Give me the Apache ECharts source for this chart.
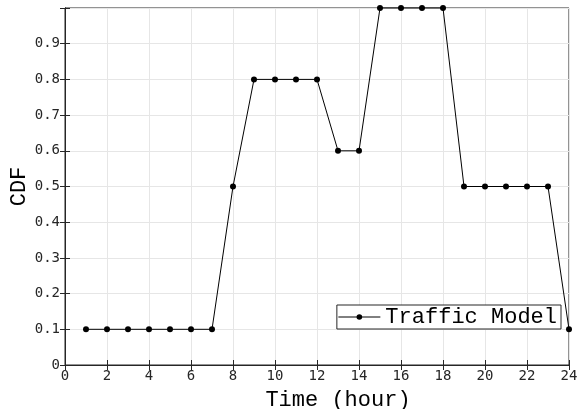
<!DOCTYPE html>
<html><head><meta charset="utf-8">
<script src="https://cdn.jsdelivr.net/npm/echarts@6/dist/echarts.min.js"></script>
<style>html,body{margin:0;padding:0;background:#fff}#c{width:578px;height:409px}</style>
</head><body><div id="c"></div>
<script>
const hours = [1,2,3,4,5,6,7,8,9,10,11,12,13,14,15,16,17,18,19,20,21,22,23,24];
const cdf = [0.1,0.1,0.1,0.1,0.1,0.1,0.1,0.5,0.8,0.8,0.8,0.8,0.6,0.6,1.0,1.0,1.0,1.0,0.5,0.5,0.5,0.5,0.5,0.1];
const seriesName = 'Traffic Model';
const xTitle = 'Time (hour)';
const yTitle = 'CDF';

const chart = echarts.init(document.getElementById('c'));
const axisCol = '#262626';
const tickFont = {fontFamily:'DejaVu Sans Mono', fontSize:14, color:'#262626'};
chart.setOption({
  animation:false,
  backgroundColor:'#fff',
  grid:{left:65,right:9,top:8,bottom:44,show:true,borderColor:axisCol,borderWidth:1,outerBoundsMode:'none',containLabel:false},
  legend:{
    right:17, bottom:80, orient:'horizontal',
    backgroundColor:'#fff', borderColor:axisCol, borderWidth:1, padding:[1,4,1,1],
    itemWidth:42, itemHeight:7, itemGap:4,
    lineStyle:{width:1,color:'#000'},
    textStyle:{fontFamily:'Liberation Mono', fontSize:22, color:'#000'},
    data:[{name:seriesName}]
  },
  xAxis:[{
    type:'value', min:0, max:24, interval:2,
    name:xTitle, nameLocation:'middle', nameGap:24, nameMoveOverlap:false,
    nameTextStyle:{fontFamily:'Liberation Mono', fontSize:22, color:'#000', padding:[0,0,0,42]},
    axisLine:{show:true,onZero:false,lineStyle:{color:axisCol}},
    axisTick:{show:true,inside:true,length:5,lineStyle:{color:axisCol}},
    axisLabel:Object.assign({margin:4},tickFont),
    splitLine:{show:true,lineStyle:{color:'#e6e6e6'}}
  },{
    type:'value', min:0, max:24, interval:2, position:'top',
    axisLine:{show:true,lineStyle:{color:axisCol}},
    axisTick:{show:true,inside:true,length:5,lineStyle:{color:axisCol}},
    axisLabel:{show:false}, splitLine:{show:false}
  }],
  yAxis:[{
    type:'value', min:0, max:1, interval:0.1,
    name:yTitle, nameLocation:'middle', nameGap:35, nameRotate:90, nameMoveOverlap:false,
    nameTextStyle:{fontFamily:'Liberation Mono', fontSize:22, color:'#000'},
    axisLine:{show:true,onZero:false,lineStyle:{color:axisCol}},
    axisTick:{show:true,inside:true,length:5,lineStyle:{color:axisCol}},
    axisLabel:Object.assign({margin:5, formatter:v => (Math.abs(v-1)<1e-9 ? '' : (Math.round(v*10)/10).toString())},tickFont),
    splitLine:{show:true,lineStyle:{color:'#e6e6e6'}}
  },{
    type:'value', min:0, max:1, interval:0.1, position:'right',
    axisLine:{show:true,lineStyle:{color:axisCol}},
    axisTick:{show:true,inside:true,length:5,lineStyle:{color:axisCol}},
    axisLabel:{show:false}, splitLine:{show:false}
  }],
  series:[{
    name:seriesName, type:'line',
    data:hours.map((h,i)=>[h,cdf[i]]),
    symbol:'circle', symbolSize:6, showSymbol:true,
    lineStyle:{color:'#000',width:1}, itemStyle:{color:'#000'},
    clip:false
  }]
});
</script></body></html>
